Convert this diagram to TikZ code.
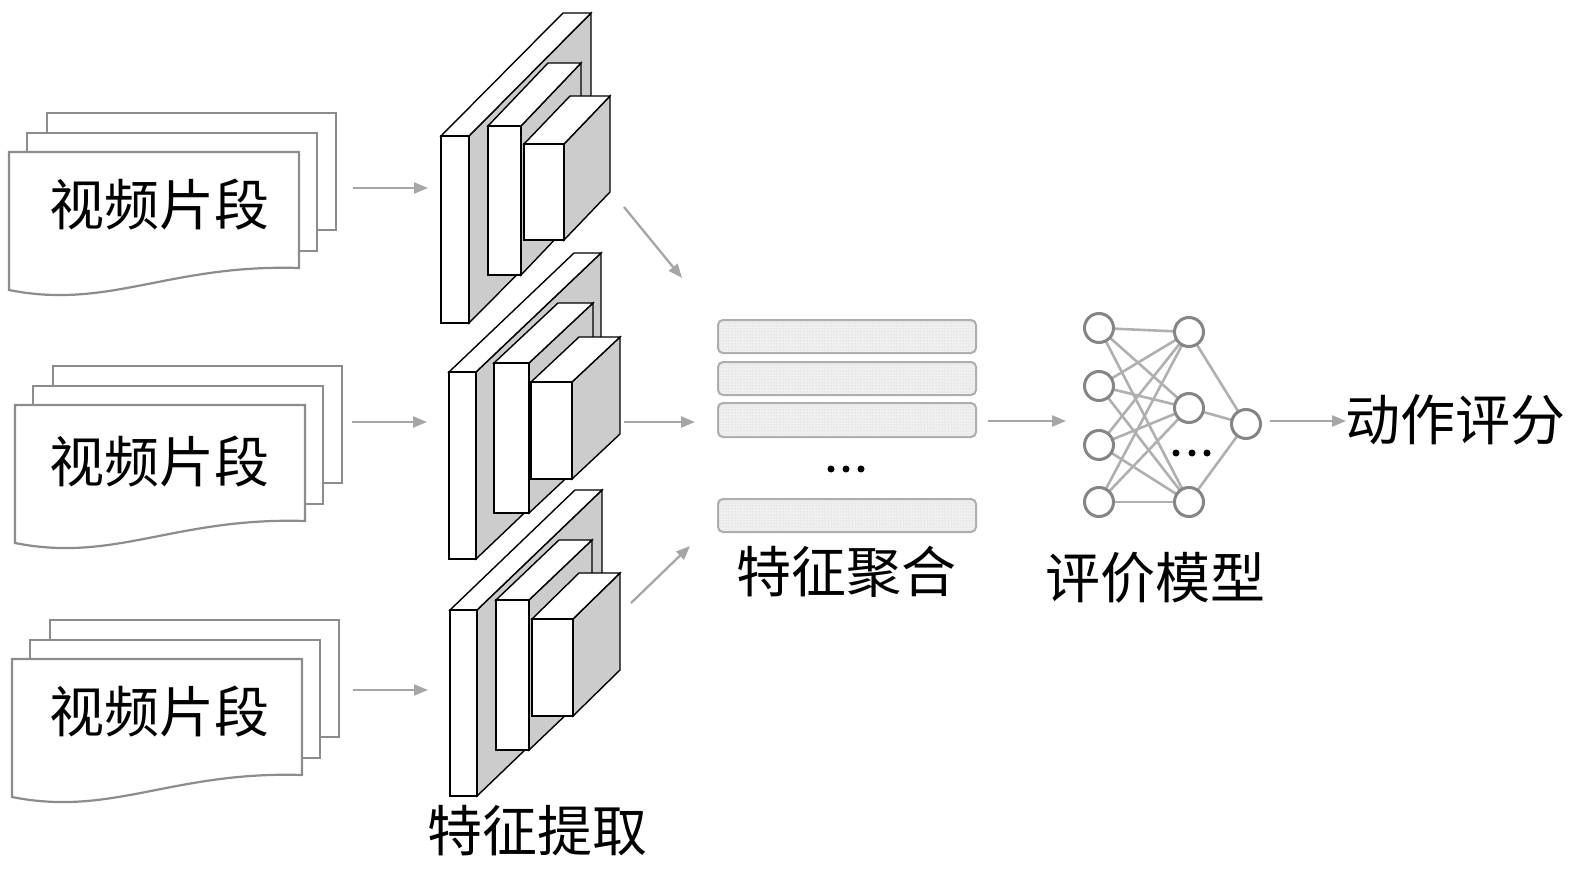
\documentclass[tikz,border=0pt]{standalone}
\usepackage{fontspec}
\newfontfamily\cjk{Noto Sans CJK SC}
\usetikzlibrary{arrows.meta,patterns,backgrounds}
\definecolor{sidegray}{HTML}{CCCCCC}
\definecolor{docgray}{HTML}{8C8C8C}
\definecolor{arrowgray}{HTML}{A6A6A6}
\definecolor{bargray}{HTML}{ADADAD}
\definecolor{barfill}{HTML}{F0F0F0}
\definecolor{nodegray}{HTML}{858585}
\definecolor{edgegray}{HTML}{B0B0B0}
\tikzset{
  boxline/.style={draw=black, line width=1.4pt, line join=miter},
  docline/.style={draw=docgray, line width=2.2pt, fill=white},
  flowarrow/.style={draw=arrowgray, line width=2.3pt, -{Triangle[length=14pt,width=11pt]}},
  featbar/.style={draw=bargray, line width=2pt, rounded corners=5pt, fill=barfill,
                  postaction={pattern=dots, pattern color=black!22}},
  neuron/.style={circle, draw=nodegray, line width=3pt, fill=white, minimum size=29pt, inner sep=0pt},
  nnedge/.style={draw=edgegray, line width=2.6pt},
  bigdot/.style={circle, fill=black, minimum size=7pt, inner sep=0pt},
  label/.style={font=\cjk\fontsize{55}{60}\selectfont, inner sep=0pt}
}
% prism: x y w h dx dy (pixel coordinates, y downward)
\newcommand\cnnprism[6]{%
  \draw[boxline, fill=sidegray] ({#1+#3},#2) -- ++(#5,#6) -- ++(0,#4) -- ++({-(#5)},{-(#6)}) -- cycle;
  \draw[boxline, fill=white] (#1,#2) -- ++(#5,#6) -- ++(#3,0) -- ++({-(#5)},{-(#6)}) -- cycle;
  \draw[boxline, fill=white] (#1,#2) rectangle ++(#3,#4);
}
% video document stack: front top-left x y
\newcommand\videodoc[2]{%
  \draw[docline] ({#1+38},{#2-39}) rectangle ++(289,117);
  \draw[docline] ({#1+18},{#2-19}) rectangle ++(290,118);
  \draw[docline] (#1,#2) -- ++(290,0) -- ++(0,116)
     .. controls ({#1+160},{#2+112}) and ({#1+100},{#2+158}) .. ({#1},{#2+138}) -- cycle;
}
\begin{document}
\begin{tikzpicture}[x=1pt,y=-1pt]
\useasboundingbox (0,0) rectangle (1575,872);

% video clips
\videodoc{9}{152}
\videodoc{15}{405}
\videodoc{12}{659}
\node[label] (clip1) at (159,205) {视频片段};
\node[label] (clip2) at (159,462) {视频片段};
\node[label] (clip3) at (159,712) {视频片段};

% CNN feature extractors
\cnnprism{441}{136}{28}{187}{122}{-123}
\cnnprism{488}{126}{33}{149}{60}{-63}
\cnnprism{524}{144}{40}{96}{46}{-48}

\cnnprism{449}{372}{27}{187}{125}{-119}
\cnnprism{494}{363}{35}{150}{64}{-60}
\cnnprism{531}{382}{41}{97}{48}{-45}

\cnnprism{450}{610}{27}{186}{125}{-120}
\cnnprism{496}{600}{33}{150}{63}{-60}
\cnnprism{532}{619}{41}{97}{47}{-46}

\node[label] (extract) at (537,831) {特征提取};

% arrow end points
\coordinate (a1s) at (353,188); \coordinate (a1e) at (428,188);
\coordinate (a2s) at (352,422); \coordinate (a2e) at (427,422);
\coordinate (a3s) at (353,690); \coordinate (a3e) at (428,690);
\coordinate (b1s) at (624,207); \coordinate (b1e) at (682,278);
\coordinate (b2s) at (624,422); \coordinate (b2e) at (695,422);
\coordinate (b3s) at (631,603); \coordinate (b3e) at (690,546);
\coordinate (cs) at (988,421); \coordinate (ce) at (1066,421);
\coordinate (ds) at (1270,421); \coordinate (de) at (1346,421);

\draw[flowarrow] (a1s) -- (a1e);
\draw[flowarrow] (a2s) -- (a2e);
\draw[flowarrow] (a3s) -- (a3e);
\draw[flowarrow] (b1s) -- (b1e);
\draw[flowarrow] (b2s) -- (b2e);
\draw[flowarrow] (b3s) -- (b3e);
\draw[flowarrow] (cs) -- (ce);
\draw[flowarrow] (ds) -- (de);

% feature aggregation bars
\draw[featbar] (718,320) rectangle (976,353);
\draw[featbar] (718,362) rectangle (976,395);
\draw[featbar] (718,403) rectangle (976,437);
\draw[featbar] (718,499) rectangle (976,532);
\node[bigdot] (fd1) at (831,469) {};
\node[bigdot] (fd2) at (846,469) {};
\node[bigdot] (fd3) at (861,469) {};
\node[label] (aggregate) at (846,572) {特征聚合};

% evaluation network
\node[neuron] (i1) at (1099,328) {};
\node[neuron] (i2) at (1099,386) {};
\node[neuron] (i3) at (1099,445) {};
\node[neuron] (i4) at (1099,502) {};
\node[neuron] (h1) at (1189,332) {};
\node[neuron] (h2) at (1189,408) {};
\node[neuron] (h3) at (1189,502) {};
\node[neuron] (o1) at (1246,424) {};
\begin{pgfonlayer}{background}
\foreach \i in {i1,i2,i3,i4}{
  \foreach \h in {h1,h2,h3}{
    \draw[nnedge] (\i.center) -- (\h.center);
  }
}
\foreach \h in {h1,h2,h3}{ \draw[nnedge] (\h.center) -- (o1.center); }
\end{pgfonlayer}
\node[bigdot] (nd1) at (1176,453) {};
\node[bigdot] (nd2) at (1192,453) {};
\node[bigdot] (nd3) at (1207,453) {};
\node[label] (model) at (1155,578) {评价模型};

\node[label] (score) at (1455,420) {动作评分};
\end{tikzpicture}
\end{document}
